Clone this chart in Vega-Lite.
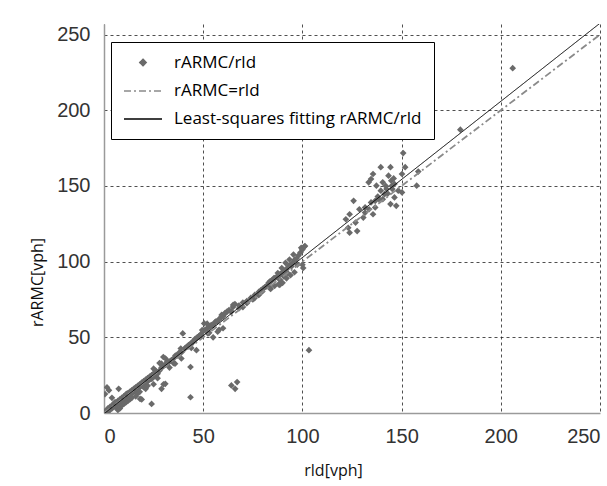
{
  "$schema": "https://vega.github.io/schema/vega-lite/v6.json",
  "width": 496,
  "height": 389,
  "autosize": {"type": "none"},
  "padding": {"left": 104, "top": 24, "right": 7, "bottom": 73},
  "background": "white",
  "config": {
    "view": {"stroke": null},
    "axis": {
      "labelFont": "Liberation Sans",
      "labelFontSize": 20,
      "labelColor": "#333333",
      "titleFont": "Open Sans",
      "titleFontWeight": "normal",
      "titleColor": "#111111",
      "titleFontSize": 16,
      "domainColor": "#9a9a9a",
      "domainWidth": 1.5,
      "ticks": false,
      "grid": true,
      "gridColor": "#222222",
      "gridDash": [3, 3],
      "gridWidth": 0.8,
      "gridOpacity": 1
    },
    "legend": {
      "orient": "none",
      "legendX": 7,
      "legendY": 18,
      "padding": 12,
      "rowPadding": -4,
      "strokeColor": "#000000",
      "fillColor": "#ffffff",
      "labelFont": "Open Sans",
      "labelFontSize": 17,
      "labelColor": "#000000",
      "labelOffset": 11,
      "labelLimit": 400,
      "symbolStrokeWidth": 1.3,
      "symbolOpacity": 1
    }
  },
  "datasets": {
    "pts": [
      {"x": 0, "y": 0}, {"x": 0.5, "y": 1}, {"x": 1, "y": 0.5}, {"x": 1.5, "y": 2}, {"x": 2, "y": 1}, {"x": 2, "y": 3},
      {"x": 3, "y": 2}, {"x": 3, "y": 4}, {"x": 4, "y": 3}, {"x": 4, "y": 5}, {"x": 5, "y": 4}, {"x": 5, "y": 6},
      {"x": 6, "y": 5}, {"x": 6, "y": 7}, {"x": 7, "y": 6}, {"x": 7, "y": 8}, {"x": 8, "y": 7}, {"x": 8, "y": 9},
      {"x": 9, "y": 8}, {"x": 9, "y": 10}, {"x": 10, "y": 9}, {"x": 10, "y": 11}, {"x": 11, "y": 10}, {"x": 11, "y": 12},
      {"x": 12, "y": 11}, {"x": 12, "y": 13}, {"x": 13, "y": 12}, {"x": 13, "y": 14}, {"x": 14, "y": 13}, {"x": 14, "y": 15},
      {"x": 15, "y": 14}, {"x": 15, "y": 16}, {"x": 16, "y": 15}, {"x": 16, "y": 17}, {"x": 17, "y": 16}, {"x": 17, "y": 18},
      {"x": 18, "y": 17}, {"x": 18, "y": 19}, {"x": 19, "y": 18}, {"x": 19, "y": 20}, {"x": 20, "y": 19}, {"x": 20, "y": 21},
      {"x": 21, "y": 20}, {"x": 21, "y": 22}, {"x": 22, "y": 21}, {"x": 22, "y": 23}, {"x": 23, "y": 22}, {"x": 23, "y": 24},
      {"x": 24, "y": 23}, {"x": 24, "y": 25}, {"x": 25, "y": 24}, {"x": 25, "y": 26}, {"x": 26, "y": 25}, {"x": 26, "y": 27},
      {"x": 27, "y": 26}, {"x": 28, "y": 28}, {"x": 29, "y": 30}, {"x": 30, "y": 31}, {"x": 31, "y": 32}, {"x": 32, "y": 33},
      {"x": 33, "y": 34}, {"x": 34, "y": 35}, {"x": 35, "y": 36},
      {"x": 0.5, "y": 12.5}, {"x": 1.5, "y": 17}, {"x": 2.5, "y": 15}, {"x": 4, "y": 10}, {"x": 6, "y": 4}, {"x": 7, "y": 2},
      {"x": 8, "y": 3}, {"x": 9, "y": 5}, {"x": 10, "y": 6}, {"x": 11, "y": 7}, {"x": 12, "y": 8}, {"x": 13, "y": 9},
      {"x": 14, "y": 10}, {"x": 7.4, "y": 16}, {"x": 15.3, "y": 16}, {"x": 11.3, "y": 12.6}, {"x": 5.5, "y": 7.1},
      {"x": 16, "y": 11}, {"x": 17, "y": 13}, {"x": 18.2, "y": 9.3}, {"x": 18, "y": 14}, {"x": 19, "y": 9}, {"x": 20, "y": 17},
      {"x": 21.1, "y": 20.4}, {"x": 21, "y": 16}, {"x": 22, "y": 18}, {"x": 24, "y": 6}, {"x": 24.1, "y": 22.6}, {"x": 25, "y": 19},
      {"x": 25, "y": 29.3}, {"x": 26, "y": 28}, {"x": 27, "y": 23}, {"x": 28, "y": 33}, {"x": 29, "y": 16}, {"x": 29, "y": 32.6},
      {"x": 29.9, "y": 37}, {"x": 30.9, "y": 19.3}, {"x": 30, "y": 19}, {"x": 31.9, "y": 33.7}, {"x": 31, "y": 36}, {"x": 32, "y": 34},
      {"x": 33, "y": 30}, {"x": 35, "y": 33}, {"x": 35.8, "y": 32.6}, {"x": 36, "y": 38}, {"x": 36.8, "y": 38.2}, {"x": 37, "y": 38},
      {"x": 38, "y": 40}, {"x": 38.7, "y": 42.6}, {"x": 39, "y": 40}, {"x": 39.7, "y": 52.6}, {"x": 40.7, "y": 42.6}, {"x": 41, "y": 43},
      {"x": 42, "y": 44}, {"x": 42.6, "y": 44.8}, {"x": 43, "y": 45}, {"x": 44, "y": 46}, {"x": 44.6, "y": 47}, {"x": 45, "y": 47},
      {"x": 46, "y": 49}, {"x": 46.6, "y": 49.2}, {"x": 47, "y": 50}, {"x": 48, "y": 51}, {"x": 48.5, "y": 51.5}, {"x": 49, "y": 52},
      {"x": 49.5, "y": 54.8}, {"x": 50, "y": 54}, {"x": 50.5, "y": 59.2}, {"x": 51, "y": 55}, {"x": 52, "y": 56}, {"x": 52.4, "y": 52.6},
      {"x": 53, "y": 57}, {"x": 53.4, "y": 57}, {"x": 54, "y": 58}, {"x": 54.4, "y": 58.1}, {"x": 55, "y": 58}, {"x": 56, "y": 60},
      {"x": 56.3, "y": 60.3}, {"x": 57, "y": 60.5}, {"x": 57.3, "y": 53.7}, {"x": 58, "y": 62}, {"x": 59, "y": 63}, {"x": 59.3, "y": 64.8},
      {"x": 60, "y": 64}, {"x": 43.6, "y": 10.4}, {"x": 43.6, "y": 30.4}, {"x": 46.6, "y": 41.5}, {"x": 44, "y": 43}, {"x": 39, "y": 36},
      {"x": 52, "y": 59}, {"x": 58, "y": 55}, {"x": 60, "y": 56}, {"x": 53, "y": 53}, {"x": 55, "y": 50},
      {"x": 61, "y": 66}, {"x": 61.2, "y": 65.9}, {"x": 62, "y": 67}, {"x": 63, "y": 68}, {"x": 64, "y": 67}, {"x": 64.2, "y": 67},
      {"x": 65, "y": 70}, {"x": 65.1, "y": 71.4}, {"x": 66, "y": 72}, {"x": 68, "y": 71}, {"x": 68.1, "y": 69.2}, {"x": 70, "y": 73},
      {"x": 72, "y": 74}, {"x": 72, "y": 72.5}, {"x": 74, "y": 76}, {"x": 75.9, "y": 75.9}, {"x": 76, "y": 78}, {"x": 77.9, "y": 78.1},
      {"x": 78, "y": 80}, {"x": 79, "y": 81}, {"x": 79.8, "y": 80.3}, {"x": 80, "y": 82}, {"x": 81, "y": 83}, {"x": 81.8, "y": 83.6},
      {"x": 82, "y": 84}, {"x": 83, "y": 86}, {"x": 83.7, "y": 87}, {"x": 83.7, "y": 82.5}, {"x": 84, "y": 87}, {"x": 85, "y": 88},
      {"x": 85.7, "y": 89.2}, {"x": 86, "y": 89}, {"x": 87, "y": 90}, {"x": 87.6, "y": 92.5}, {"x": 88, "y": 91}, {"x": 88.6, "y": 88.1},
      {"x": 88.6, "y": 84.7}, {"x": 89, "y": 92}, {"x": 89.6, "y": 95.8}, {"x": 90, "y": 93}, {"x": 90.6, "y": 90.3}, {"x": 91, "y": 94},
      {"x": 91.5, "y": 99.2}, {"x": 92, "y": 95}, {"x": 92.5, "y": 92.5}, {"x": 93, "y": 97}, {"x": 93.5, "y": 101.4}, {"x": 94, "y": 98},
      {"x": 94.5, "y": 96.9}, {"x": 95, "y": 99}, {"x": 95.5, "y": 104.7}, {"x": 96, "y": 101}, {"x": 97, "y": 102}, {"x": 97.4, "y": 98},
      {"x": 98, "y": 104}, {"x": 99, "y": 106}, {"x": 99.4, "y": 109.1}, {"x": 100, "y": 108}, {"x": 100.4, "y": 95.8}, {"x": 101, "y": 110},
      {"x": 101.3, "y": 110.3}, {"x": 88, "y": 85}, {"x": 90, "y": 86}, {"x": 92, "y": 89}, {"x": 94, "y": 91}, {"x": 96, "y": 93},
      {"x": 100, "y": 98}, {"x": 86, "y": 84}, {"x": 84, "y": 82}, {"x": 78, "y": 78}, {"x": 75, "y": 75}, {"x": 70, "y": 70},
      {"x": 103.3, "y": 41.5}, {"x": 64.2, "y": 18.2}, {"x": 66.1, "y": 16}, {"x": 67.1, "y": 20.4},
      {"x": 139.5, "y": 162.4}, {"x": 144.4, "y": 162.4}, {"x": 135.6, "y": 157.9}, {"x": 134.6, "y": 154.6}, {"x": 133.4, "y": 152.4},
      {"x": 137.3, "y": 150.2}, {"x": 140.5, "y": 152.4}, {"x": 143.4, "y": 156.8}, {"x": 144.8, "y": 153.5}, {"x": 146.4, "y": 151.3},
      {"x": 150.2, "y": 157.9}, {"x": 142.4, "y": 148}, {"x": 139.5, "y": 146.9}, {"x": 145.3, "y": 148}, {"x": 148.3, "y": 146.9},
      {"x": 150.2, "y": 145.7}, {"x": 146.4, "y": 142.4}, {"x": 144.4, "y": 138}, {"x": 147.3, "y": 136.9}, {"x": 140.5, "y": 141.3},
      {"x": 136.7, "y": 140.2}, {"x": 134.6, "y": 139.1}, {"x": 131.6, "y": 135.8}, {"x": 128.7, "y": 134.6}, {"x": 125.8, "y": 140.2},
      {"x": 123.8, "y": 131.3}, {"x": 121.9, "y": 128}, {"x": 123.1, "y": 122.4}, {"x": 126.8, "y": 125.8}, {"x": 130.7, "y": 129.1},
      {"x": 131.6, "y": 132.4}, {"x": 133.6, "y": 134.6}, {"x": 135.6, "y": 131.3}, {"x": 127.6, "y": 120.2}, {"x": 123.8, "y": 119.1},
      {"x": 136.7, "y": 135.8}, {"x": 138.6, "y": 141.3}, {"x": 141.4, "y": 144.6}, {"x": 142, "y": 150}, {"x": 145, "y": 150},
      {"x": 143, "y": 145}, {"x": 138, "y": 143}, {"x": 146, "y": 155},
      {"x": 150.8, "y": 171.7}, {"x": 151.8, "y": 162.4}, {"x": 158.4, "y": 159.5}, {"x": 157.6, "y": 150.2},
      {"x": 179.6, "y": 187.2}, {"x": 206, "y": 227.8}
    ],
    "ident": [{"x": 0, "y": 0}, {"x": 250, "y": 250}],
    "fit": [{"x": 0, "y": -0.5}, {"x": 250, "y": 257.5}]
  },
  "encoding": {
    "x": {
      "field": "x", "type": "quantitative",
      "scale": {"domain": [0, 250], "nice": false, "zero": false},
      "axis": {
        "values": [0, 50, 100, 150, 200, 250],
        "labelPadding": 13,
        "labelFlush": true,
        "title": "rld[vph]",
        "titleX": 229,
        "titleY": 62,
        "titleBaseline": "alphabetic"
      }
    },
    "y": {
      "field": "y", "type": "quantitative",
      "scale": {"domain": [0, 257], "nice": false, "zero": false},
      "axis": {
        "values": [0, 50, 100, 150, 200, 250],
        "labelPadding": 14,
        "title": "rARMC[vph]",
        "titleX": -62,
        "titleY": 258,
        "titleAngle": 270,
        "titleBaseline": "alphabetic"
      }
    }
  },
  "layer": [
    {
      "data": {"name": "pts"},
      "mark": {"type": "point", "filled": true, "opacity": 1, "clip": true},
      "encoding": {
        "color": {
          "datum": "rARMC/rld",
          "type": "nominal",
          "scale": {
            "domain": ["rARMC/rld", "rARMC=rld", "Least-squares fitting rARMC/rld"],
            "range": ["#6a6a6a", "#8a8a8a", "#000000"]
          },
          "legend": {"title": null}
        },
        "shape": {
          "datum": "rARMC/rld",
          "type": "nominal",
          "scale": {
            "domain": ["rARMC/rld", "rARMC=rld", "Least-squares fitting rARMC/rld"],
            "range": ["diamond", "stroke", "stroke"]
          },
          "legend": {"title": null}
        },
        "size": {
          "datum": "rARMC/rld",
          "type": "nominal",
          "scale": {
            "type": "ordinal",
            "domain": ["rARMC/rld", "rARMC=rld", "Least-squares fitting rARMC/rld"],
            "range": [45, 1444, 1444]
          },
          "legend": {"title": null}
        }
      }
    },
    {
      "data": {"name": "ident"},
      "mark": {"type": "line", "strokeWidth": 1.8, "clip": true},
      "encoding": {
        "color": {"datum": "rARMC=rld", "type": "nominal", "legend": {"title": null}},
        "strokeDash": {
          "datum": "rARMC=rld",
          "type": "nominal",
          "scale": {
            "domain": ["rARMC/rld", "rARMC=rld", "Least-squares fitting rARMC/rld"],
            "range": [[1, 0], [7, 3, 2, 3], [1, 0]]
          },
          "legend": {"title": null}
        }
      }
    },
    {
      "data": {"name": "fit"},
      "mark": {"type": "line", "strokeWidth": 1, "clip": true},
      "encoding": {
        "color": {"datum": "Least-squares fitting rARMC/rld", "type": "nominal", "legend": {"title": null}},
        "strokeDash": {"datum": "Least-squares fitting rARMC/rld", "type": "nominal", "legend": {"title": null}}
      }
    }
  ]
}
